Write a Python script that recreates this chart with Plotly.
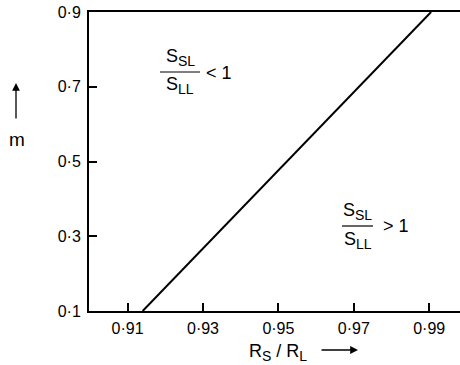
import plotly.graph_objects as go

# Data
line_x = [0.914, 0.9905]
line_y = [0.1, 0.9]
x_ticks = [0.91, 0.93, 0.95, 0.97, 0.99]
x_tick_labels = ["0·91", "0·93", "0·95", "0·97", "0·99"]
y_ticks = [0.1, 0.3, 0.5, 0.7, 0.9]
y_tick_labels = ["0·1", "0·3", "0·5", "0·7", "0·9"]

FONT = "Liberation Sans"
W, H = 460, 365
L_s, T_s, R_s, B_s = 89, 12, 460, 311   # plot area in screen pixels
PW, PH = R_s - L_s, B_s - T_s

fig = go.Figure()
fig.add_trace(go.Scatter(x=line_x, y=line_y, mode="lines",
                         line=dict(color="black", width=2), showlegend=False,
                         hoverinfo="skip"))

fig.update_layout(
    width=W, height=H,
    margin=dict(l=L_s, r=W - R_s, t=T_s, b=H - B_s, autoexpand=False),
    paper_bgcolor="white", plot_bgcolor="white",
    font=dict(family=FONT, size=16, color="black"),
    xaxis=dict(range=[0.89976, 0.99817], tickvals=x_ticks, ticktext=x_tick_labels,
               ticks="inside", ticklen=8, tickwidth=1.5, tickcolor="black",
               showline=True, linecolor="black", linewidth=2, mirror=True,
               showgrid=False, zeroline=False, tickfont=dict(size=16),
               automargin=False, ticklabelstandoff=2, fixedrange=True),
    yaxis=dict(range=[0.1, 0.9], tickvals=y_ticks, ticktext=y_tick_labels,
               ticks="inside", ticklen=8, tickwidth=1.5, tickcolor="black",
               showline=True, linecolor="black", linewidth=2,
               showgrid=False, zeroline=False, tickfont=dict(size=16),
               automargin=False, ticklabelstandoff=3, fixedrange=True),
)

def px(x):
    return (x - L_s) / PW
def py(y):
    return (B_s - y) / PH

def sub(s, size=14):
    return "<sub><span style='font-size:%dpx'>%s</span></sub>" % (size, s)

def label(x, y, text, size=18, xa="center", ya="middle"):
    return dict(xref="paper", yref="paper", x=px(x), y=py(y), text=text,
                xanchor=xa, yanchor=ya, showarrow=False, font=dict(size=size))

ann = []
# y label "m" with up arrow
ann.append(label(16.5, 139, "m", 19))
ann.append(dict(xref="paper", yref="paper", x=px(16), y=py(83), ax=0, ay=37,
                text="", showarrow=True, arrowhead=2, arrowsize=1.2,
                arrowwidth=1.3, arrowcolor="black"))
# x label
ann.append(label(247, 352, "R" + sub("S") + " / R" + sub("L"), 18, xa="left"))
ann.append(dict(xref="paper", yref="paper", x=px(358), y=py(350), ax=-38, ay=0,
                text="", showarrow=True, arrowhead=2, arrowsize=1.2,
                arrowwidth=1.3, arrowcolor="black"))

ann.append(label(180, 71, "S" + sub("SL"), ya="bottom"))
ann.append(label(180, 72, "S" + sub("LL"), ya="top"))
ann.append(label(219, 73, "&lt; 1"))
ann.append(label(357.5, 225, "S" + sub("SL"), ya="bottom"))
ann.append(label(357.5, 227, "S" + sub("LL"), ya="top"))
ann.append(label(396, 226, "&gt; 1"))
fig.update_layout(annotations=ann)

# fraction bars
for x0, x1, y in [(160, 200, 72), (342, 373, 226)]:
    fig.add_shape(type="line", xref="paper", yref="paper",
                  x0=px(x0), x1=px(x1), y0=py(y), y1=py(y),
                  line=dict(color="black", width=1.2))

fig.write_html("out.html", config={"displayModeBar": False},
               post_script="document.body.style.margin='0';")
